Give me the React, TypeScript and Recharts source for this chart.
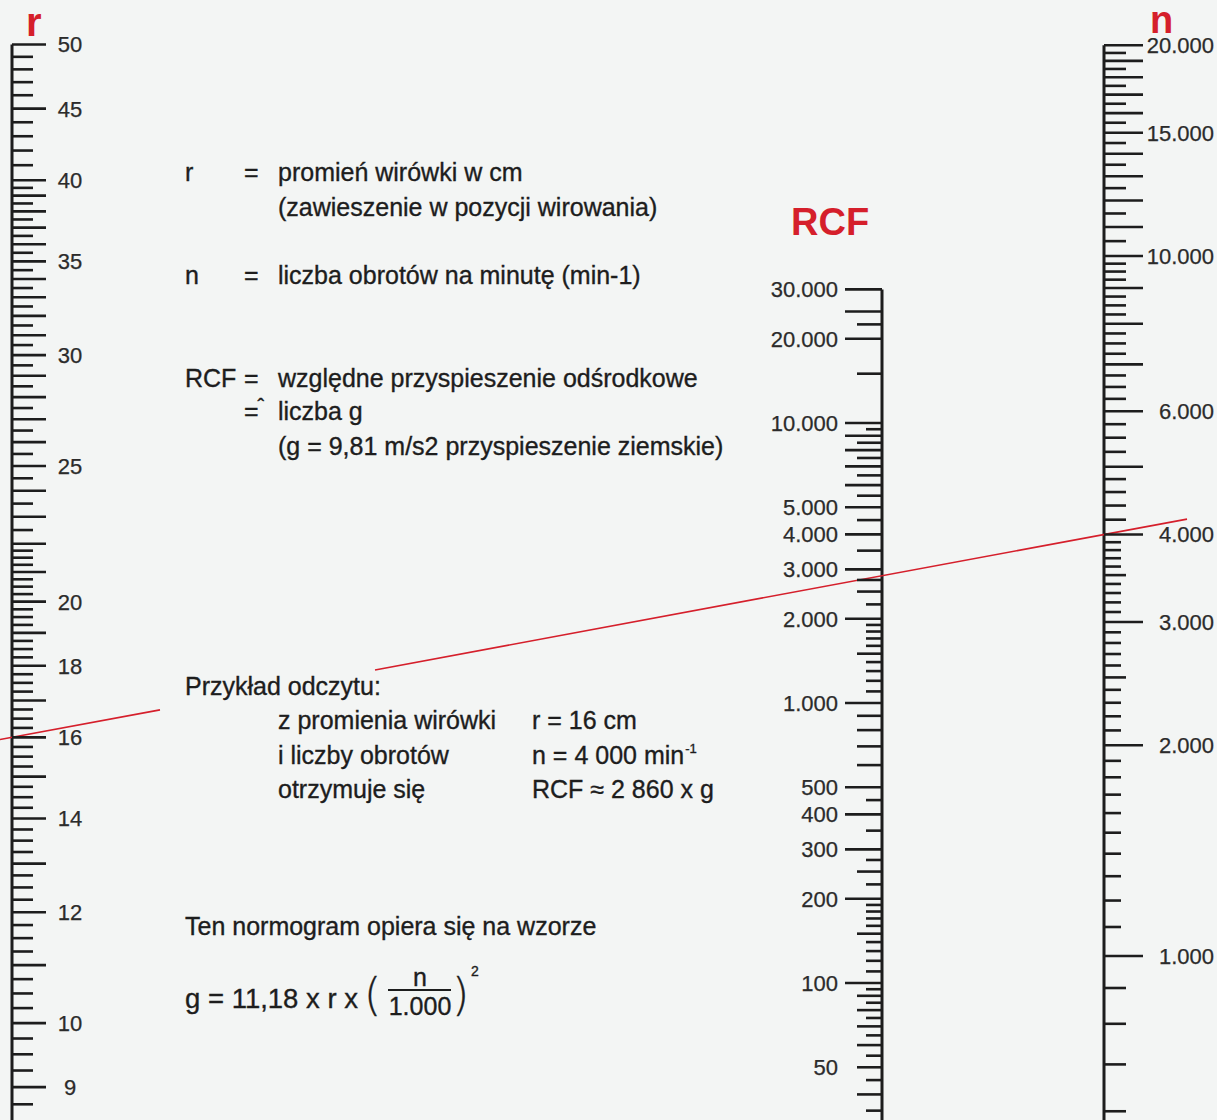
import React from 'react';
import { ComposedChart, XAxis, YAxis, ReferenceLine } from 'recharts';

const W = 1217;
const H = 1120;
const INK = '#1d1d1d';
const RED = '#d51f2b';
const BG = '#f3f5f4';
const FONT = '"Liberation Sans", Arial, Helvetica, sans-serif';

// where the three scales stand across the sheet (hidden x axis uses the same units)
const R_POS = 12;
const RCF_POS = 882;
const N_POS = 1104;

// value reached at the bottom and top edge of the sheet for each log scale
const R_RANGE: [number, number] = [8.527, 53.8];
const RCF_RANGE: [number, number] = [32.41, 324100];
const N_RANGE: [number, number] = [583, 23210];

// graduations, written as [from, to, step]
const range = (from: number, to: number, step: number, skip: number[] = []) => {
  const out: number[] = [];
  for (let v = from; v <= to + 1e-9; v += step) {
    const r = Math.round(v * 100) / 100;
    if (!skip.includes(r)) out.push(r);
  }
  return out;
};

// r scale (cm)
const R_TICKS = [...range(8.75, 22, 0.25), ...range(22.5, 40, 0.5), ...range(41, 50, 1)];
const R_LABELS = [9, 10, 12, 14, 16, 18, 20, 25, 30, 35, 40, 45, 50];

// RCF scale
const RCF_LONG = [30000, 25000, 20000, 10000, 9000, 8000, 7000, 6000, 5000, 4000, 3000, 2000, 1000, 500, 400, 300, 200, 100];
const RCF_MID = [22500, 15000, 8500, 7500, 6500, 5500, 4500, 3500, 2750, 2500, 1500, 900, 800, 700, 600, 250, 150, 90, 80, 70, 60, 50, 40];
const RCF_SHORT = [9500, 2250, 1900, 1800, 1700, 1600, 1400, 1300, 1200, 1100, 450, 350, 275, 225, 190, 180, 170, 160, 140, 130, 120, 110, 95, 85, 75, 65, 55, 45, 35];
const RCF_LABELS = [30000, 20000, 10000, 5000, 4000, 3000, 2000, 1000, 500, 400, 300, 200, 100, 50];

// n scale (min-1)
const N_LONG = range(1000, 20000, 1000);
const N_SHORT = [
  ...range(10500, 19500, 1000),
  ...range(6250, 9750, 250, [7000, 8000, 9000]),
  5750, 5500, 5250, 4800, 4600, 4400, 4200, 3500, 2500, 900, 800, 700, 600,
];
const N_TINY = [...range(1100, 1900, 100), ...range(2100, 2900, 100, [2500]), ...range(3100, 3900, 100, [3500])];
const N_LABELS = [20000, 15000, 10000, 6000, 4000, 3000, 2000, 1000];

// worked example drawn as the red reading line
const EXAMPLE_R = 16;
const EXAMPLE_N = 4000;
const LINE_PARTS: [number, number][] = [
  [0, 160],
  [375, 1187],
];

const fmt = (v: number) => (v >= 1000 ? `${v / 1000}.000` : `${v}`);

// position of a value on a log scale, 0 = top edge, 1 = bottom edge
const frac = (v: number, [lo, hi]: [number, number]) => Math.log(hi / v) / Math.log(hi / lo);
const rAtFrac = (f: number) => R_RANGE[1] * Math.pow(R_RANGE[0] / R_RANGE[1], f);
const readingAt = (pos: number) => {
  const f1 = frac(EXAMPLE_R, R_RANGE);
  const f2 = frac(EXAMPLE_N, N_RANGE);
  return rAtFrac(f1 + ((f2 - f1) * (pos - R_POS)) / (N_POS - R_POS));
};

type Spec = {
  dir: 1 | -1;
  len: (v: number) => number;
  labels: number[];
  labelX: number; // offset of the label anchor from the spine
  anchor: 'start' | 'middle' | 'end';
};

const R_SPEC: Spec = {
  dir: 1,
  len: (v) => ((Number.isInteger(v) && v <= 40) || v === 45 || v === 50 ? 34 : 21),
  labels: R_LABELS,
  labelX: 58,
  anchor: 'middle',
};
const RCF_SPEC: Spec = {
  dir: -1,
  len: (v) => (RCF_LONG.includes(v) ? 37 : RCF_MID.includes(v) ? 25 : 16),
  labels: RCF_LABELS,
  labelX: -44,
  anchor: 'end',
};
const N_SPEC: Spec = {
  dir: 1,
  len: (v) => (N_LONG.includes(v) ? 39 : N_TINY.includes(v) ? 17 : 22),
  labels: N_LABELS,
  labelX: 110,
  anchor: 'end',
};

function GradTick(props: any) {
  const { x, y, payload, spec } = props as { x: number; y: number; payload: { value: number }; spec: Spec };
  const v = payload.value;
  const showLabel = spec.labels.includes(v);
  return (
    <g>
      <line x1={x} y1={y} x2={x + spec.dir * spec.len(v)} y2={y} stroke={INK} strokeWidth={2.6} />
      {showLabel ? (
        <text
          x={x + spec.labelX}
          y={y}
          dy="0.36em"
          textAnchor={spec.anchor}
          fontSize={22}
          fontFamily={FONT}
          fill="#2b2b2b"
          stroke="#2b2b2b"
          strokeWidth={0.25}
        >
          {fmt(v)}
        </text>
      ) : null}
    </g>
  );
}

function Txt({
  x,
  cy,
  size = 25,
  color = INK,
  bold = false,
  center = false,
  family = FONT,
  weight,
  children,
}: {
  x: number;
  cy: number;
  size?: number;
  color?: string;
  bold?: boolean;
  center?: boolean;
  family?: string;
  weight?: number;
  children: React.ReactNode;
}) {
  return (
    <div
      style={{
        position: 'absolute',
        left: x,
        top: cy - size * 0.49,
        fontSize: size,
        lineHeight: 1,
        whiteSpace: 'nowrap',
        fontFamily: family,
        fontWeight: weight ?? (bold ? 700 : 400),
        color,
        WebkitTextStroke: bold ? undefined : `0.35px ${color}`,
        transform: center ? 'translateX(-50%)' : undefined,
      }}
    >
      {children}
    </div>
  );
}

const sup: React.CSSProperties = { fontSize: 13, position: 'relative', top: -11, marginLeft: 1 };
const PAREN = '"DejaVu Sans", sans-serif';

export default function App() {
  return (
    <div style={{ position: 'absolute', left: 0, top: 0, width: W, height: H, background: BG, overflow: 'hidden' }}>
      <ComposedChart width={W} height={H} data={[]} margin={{ top: 0, right: 0, bottom: 0, left: R_POS }}>
        <XAxis xAxisId={0} type="number" dataKey="pos" domain={[R_POS, N_POS]} allowDataOverflow hide />
        <YAxis
          yAxisId="r"
          orientation="left"
          mirror
          width={RCF_POS - R_POS}
          type="number"
          scale="log"
          domain={R_RANGE}
          allowDataOverflow
          ticks={R_TICKS}
          interval={0}
          tickSize={0}
          tickMargin={0}
          axisLine={false}
          tickLine={false}
          tick={(p: any) => <GradTick {...p} spec={R_SPEC} />}
        />
        <YAxis
          yAxisId="rcf"
          orientation="left"
          mirror
          width={100}
          type="number"
          scale="log"
          domain={RCF_RANGE}
          allowDataOverflow
          ticks={[...RCF_LONG, ...RCF_MID, ...RCF_SHORT].sort((a, b) => a - b)}
          interval={0}
          tickSize={0}
          tickMargin={0}
          axisLine={false}
          tickLine={false}
          tick={(p: any) => <GradTick {...p} spec={RCF_SPEC} />}
        />
        <YAxis
          yAxisId="n"
          orientation="right"
          width={W - N_POS}
          type="number"
          scale="log"
          domain={N_RANGE}
          allowDataOverflow
          ticks={[...N_LONG, ...N_SHORT, ...N_TINY].sort((a, b) => a - b)}
          interval={0}
          tickSize={0}
          tickMargin={0}
          axisLine={false}
          tickLine={false}
          tick={(p: any) => <GradTick {...p} spec={N_SPEC} />}
        />
        {/* scale spines, from the top graduation down past the sheet edge */}
        <ReferenceLine
          yAxisId="r"
          ifOverflow="visible"
          segment={[{ x: R_POS, y: 50 }, { x: R_POS, y: R_RANGE[0] }]}
          stroke={INK}
          strokeWidth={3}
        />
        <ReferenceLine
          yAxisId="rcf"
          ifOverflow="visible"
          segment={[{ x: RCF_POS, y: 30000 }, { x: RCF_POS, y: RCF_RANGE[0] }]}
          stroke={INK}
          strokeWidth={3}
        />
        <ReferenceLine
          yAxisId="n"
          ifOverflow="visible"
          segment={[{ x: N_POS, y: 20000 }, { x: N_POS, y: N_RANGE[0] }]}
          stroke={INK}
          strokeWidth={3}
        />
        {LINE_PARTS.map(([a, b]) => (
          <ReferenceLine
            key={a}
            yAxisId="r"
            ifOverflow="visible"
            segment={[{ x: a, y: readingAt(a) }, { x: b, y: readingAt(b) }]}
            stroke={RED}
            strokeWidth={1.6}
          />
        ))}
      </ComposedChart>

      {/* scale titles */}
      <Txt x={26} cy={22} size={40} bold color={RED}>r</Txt>
      <Txt x={1150} cy={20} size={38} bold color={RED}>n</Txt>
      <Txt x={791} cy={222} size={38} bold color={RED}>RCF</Txt>

      {/* legend */}
      <Txt x={185} cy={172}>r</Txt>
      <Txt x={244} cy={172}>=</Txt>
      <Txt x={278} cy={172}>promień wirówki w cm</Txt>
      <Txt x={278} cy={207}>(zawieszenie w pozycji wirowania)</Txt>
      <Txt x={185} cy={275}>n</Txt>
      <Txt x={244} cy={275}>=</Txt>
      <Txt x={278} cy={275}>liczba obrotów na minutę (min-1)</Txt>
      <Txt x={185} cy={378}>RCF</Txt>
      <Txt x={244} cy={378}>=</Txt>
      <Txt x={278} cy={378}>względne przyspieszenie odśrodkowe</Txt>
      <Txt x={244} cy={411}>
        =<span style={{ fontSize: 20, position: 'relative', top: -7, marginLeft: -1 }}>ˆ</span>
      </Txt>
      <Txt x={278} cy={411}>liczba g</Txt>
      <Txt x={278} cy={446}>(g = 9,81 m/s2 przyspieszenie ziemskie)</Txt>

      {/* example */}
      <Txt x={185} cy={686}>Przykład odczytu:</Txt>
      <Txt x={278} cy={720}>z promienia wirówki</Txt>
      <Txt x={532} cy={720}>r = 16 cm</Txt>
      <Txt x={278} cy={755}>i liczby obrotów</Txt>
      <Txt x={532} cy={755}>
        n = 4 000 min<span style={sup}>-1</span>
      </Txt>
      <Txt x={278} cy={789}>otrzymuje się</Txt>
      <Txt x={532} cy={789}>RCF ≈ 2 860 x g</Txt>

      {/* formula */}
      <Txt x={185} cy={926}>Ten normogram opiera się na wzorze</Txt>
      <Txt x={185} cy={998} size={27.5}>g = 11,18 x r x</Txt>
      <Txt x={364} cy={995} size={44} family={PAREN} weight={200}>(</Txt>
      <Txt x={420} cy={977} center>n</Txt>
      <div style={{ position: 'absolute', left: 388, top: 989, width: 63, height: 2, background: INK }} />
      <Txt x={420} cy={1006} center>1.000</Txt>
      <Txt x={452} cy={995} size={44} family={PAREN} weight={200}>)</Txt>
      <Txt x={471} cy={971} size={14}>2</Txt>
    </div>
  );
}
